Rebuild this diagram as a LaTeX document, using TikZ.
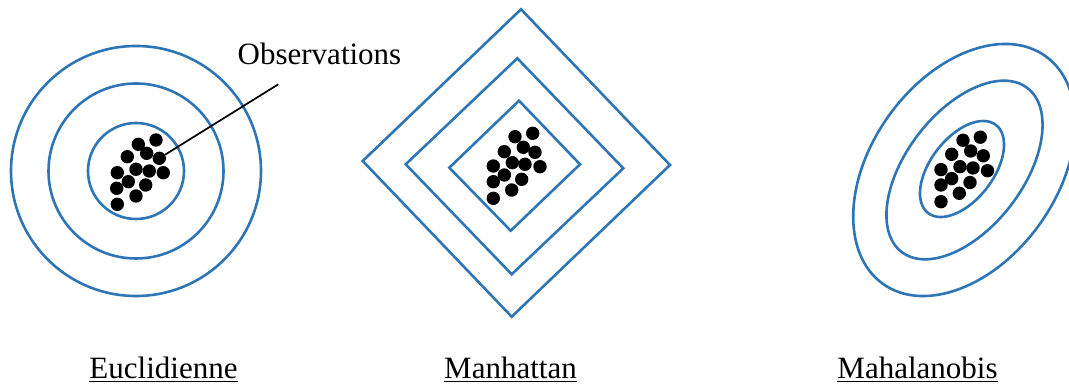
\documentclass[tikz,border=0pt]{standalone}
\usepackage{fontspec}
\setmainfont{Liberation Serif}
\definecolor{cblue}{RGB}{46,117,182}
\begin{document}
\begin{tikzpicture}[x=1pt,y=-1pt,
  contour/.style={draw=cblue,line width=2.6pt},
  obs/.style={circle,fill=black,inner sep=0pt,minimum size=13.4pt},
  leader/.style={draw=black,line width=1.7pt},
  lbl/.style={font=\fontsize{31}{36}\selectfont,anchor=base,inner sep=0pt}]
\useasboundingbox (0,0) rectangle (1069,387);
% Euclidienne
\draw[contour] (136,171) circle [radius=125pt];
\draw[contour] (136,171) circle [radius=87.5pt];
\draw[contour] (136,171) circle [radius=48pt];
% Manhattan
\draw[contour] (362.7,161) -- (521,9.3) -- (670,165) -- (511.7,316.7) -- cycle;
\draw[contour] (405.7,164.3) -- (517.3,58.3) -- (623.3,168.3) -- (511.7,274.3) -- cycle;
\draw[contour] (449.3,167.7) -- (519,100.7) -- (580,164.3) -- (510.7,230.7) -- cycle;
% Mahalanobis
\draw[contour,rotate around={54.5:(964.2,170)}] (964.2,170) ellipse [x radius=139.9pt, y radius=92.9pt];
\draw[contour,rotate around={52.5:(964.5,170)}] (964.5,170) ellipse [x radius=103.3pt, y radius=58.3pt];
\draw[contour,rotate around={52.4:(962,169)}] (962,169) ellipse [x radius=55.6pt, y radius=31.3pt];
% dots
\foreach \x/\y [count=\i] in {138.3/144.3,156/140,146.7/153.3,159.3/158.3,127.3/156.7,136/169.3,149.3/171,163.3/172.7,117.3/172.7,128.3/181.7,145.7/185,116.7/188.3,136/196,117.3/204.3}
  \node[obs] (e\i) at (\x,\y) {};
\foreach \x/\y [count=\i] in {515/136.7,532.7/133.3,523.3/147.3,535/152.3,504.3/151.7,512.3/162.7,525/164.3,540/166.7,493.3/166,504.3/175,521.7/179.3,493.3/181.7,511.7/190,493.3/198.3}
  \node[obs] (m\i) at (\x,\y) {};
\foreach \x/\y [count=\i] in {963/140.3,980.3/137.2,970.7/151,983.3/155.8,951.7/154.3,960/166.7,973/168,987.5/170.7,941/169.6,951.7/178.6,970/182.5,941/185,959.3/193.3,941/201.7}
  \node[obs] (h\i) at (\x,\y) {};
% label and leader
\node[lbl] (obs) at (319.5,65) {Observations};
\coordinate (obsend) at (278.3,84.3);
\draw[leader] (e4) -- (obsend);
\node[lbl] (euc) at (163.5,379) {\underline{Euclidienne}};
\node[lbl] (man) at (510.5,379) {\underline{Manhattan}};
\node[lbl] (mah) at (917.5,379) {\underline{Mahalanobis}};
\end{tikzpicture}
\end{document}
